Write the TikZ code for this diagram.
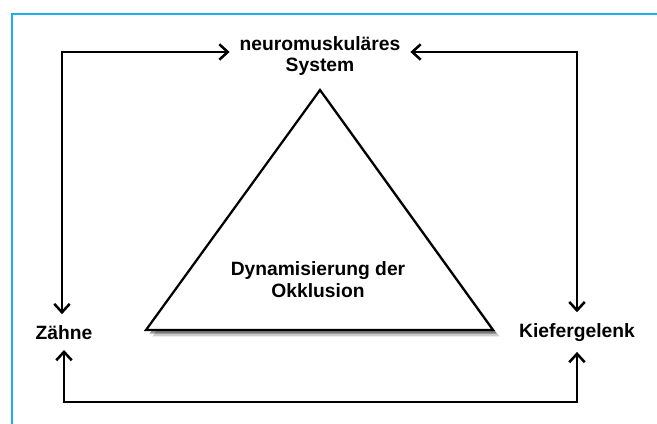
\documentclass[tikz,border=0pt]{standalone}
\usepackage{fontspec}
\setmainfont{Liberation Sans}
\usepackage{tikz}
\usetikzlibrary{arrows.meta,shadows}
\definecolor{frameblue}{HTML}{1AB0EE}
\tikzset{
    lbl/.style={font=\bfseries\fontsize{13.7}{15.5}\selectfont, inner sep=1pt, align=center},
    arr/.style={line width=1.8pt, {Straight Barb[length=6pt,width=11pt,line width=1.8pt]}-{Straight Barb[length=6pt,width=11pt,line width=1.8pt]}},
}

\begin{document}
\begin{tikzpicture}
        \useasboundingbox (0, 0) rectangle (16.425, 10.6);
        \draw[frameblue, line width=1.8pt] (0.3, 0) -- (0.3, 10.25) -- (16.425, 10.25);
        % corners of the arrow loop
        \coordinate (tl) at (1.55, 9.3);
        \coordinate (bot) at (1.55, 0.55);
        \node[lbl] (nms) at (8.0, 9.2) {neuromuskuläres\\System};
        \node[lbl] (zaehne) at (1.6, 2.28) {Zähne};
        \node[lbl] (kiefer) at (14.425, 2.28) {Kiefergelenk};
        \draw[line width=1.6pt, fill=white,
            drop shadow={shadow xshift=0.16cm, shadow yshift=-0.16cm, opacity=0.2, fill=black},
            drop shadow={shadow xshift=0.09cm, shadow yshift=-0.09cm, opacity=0.4, fill=black}]
            (8.0, 8.35) coordinate (apex) -- (12.325, 2.35) coordinate (br) -- (3.65, 2.35) coordinate (bl) -- cycle;
        \node[lbl] (dyn) at (7.95, 3.6) {Dynamisierung der\\Okklusion};
        \draw[arr] ([xshift=-6pt]nms.west |- tl) -- (tl) -- ([yshift=7pt]tl |- zaehne.north);
        \draw[arr] ([xshift=6pt]nms.east |- tl) -- (kiefer.north |- tl) -- ([yshift=7pt]kiefer.north);
        \draw[arr] ([yshift=-6pt]zaehne.south) -- (zaehne.south |- bot) -- (kiefer.south |- bot) -- ([yshift=-6pt]kiefer.south);
    \end{tikzpicture}
\end{document}
